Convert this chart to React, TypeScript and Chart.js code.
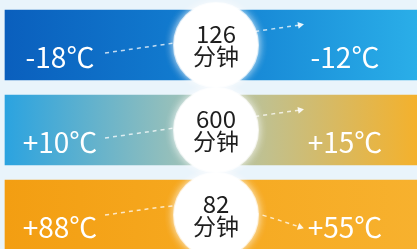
import React, { useEffect, useRef } from "react";
import { Chart, registerables } from "chart.js";

Chart.register(...registerables);

// ---- data ----
const categories = ["冷冻", "冷藏", "高温"];
const startTemps = ["-18℃", "+10℃", "+88℃"];
const endTemps = ["-12℃", "+15℃", "+55℃"];
const minutes = [126, 600, 82];
const minuteUnit = "分钟";

// gradient stops per band (left → right)
const bandGradients = [
  ["#0a5fbd", "#1380d2", "#2aaee8"],
  ["#2ba3e0", "#aec6b2", "#f4b12c"],
  ["#f39e12", "#f6a920", "#f7b12e"],
];

// ---- layout (pixels) ----
const W = 417;
const H = 249;
const BAND_LEFT = 5;
const BAND_RIGHT = 417;
const BAND_STEP = 85;
const FIRST_CENTER = 45;
const BAND_THICK = 70;
const CIRCLE_X = 216;
const CIRCLE_R = 42;
const LEFT_TEXT_X = 60;
const RIGHT_TEXT_X = 345;
const BG = "#e9f4fb";

const pxToIdx = (dy: number) => dy / BAND_STEP;

// arrow paths relative to band center (decorative)
const straightPath = [
  [105, 8],
  [300, -20],
];
const curvedPath = [
  [105, 0],
  [172, -9],
  [217, -12],
  [262, 0],
  [300, 12],
];
const arrowPaths = [straightPath, straightPath, curvedPath];
const arrowRot = [80, 80, 108];

export default function App() {
  const ref = useRef<HTMLCanvasElement | null>(null);

  useEffect(() => {
    document.body.style.margin = "0";
    const canvas = ref.current!;
    const lineSets = arrowPaths.map((path, i) => ({
      type: "line" as const,
      data: path.map(([x, dy]) => ({ x, y: i + pxToIdx(dy) })),
      borderColor: "rgba(255,255,255,0.75)",
      borderWidth: 1.5,
      borderDash: [4, 4],
      tension: 0.4,
      fill: false,
      clip: false,
      pointRadius: path.map((_, k) => (k === path.length - 1 ? 4 : 0)),
      pointStyle: "triangle",
      rotation: arrowRot[i],
      pointBackgroundColor: "rgba(255,255,255,0.9)",
      pointBorderWidth: 0,
      order: 2,
    }));

    const bgPlugin = {
      id: "bg",
      beforeDraw(chart: any) {
        const c = chart.ctx;
        c.save();
        c.fillStyle = BG;
        c.fillRect(0, 0, chart.width, chart.height);
        c.restore();
      },
    };

    const glowPlugin = {
      id: "glow",
      beforeDatasetDraw(chart: any, args: any) {
        if (args.index === 0) {
          const c = chart.ctx;
          c.save();
          c.shadowColor = "rgba(255,255,255,0.9)";
          c.shadowBlur = 8;
        }
      },
      afterDatasetDraw(chart: any, args: any) {
        if (args.index === 0) chart.ctx.restore();
      },
    };

    const textPlugin = {
      id: "texts",
      afterDatasetsDraw(chart: any) {
        const c = chart.ctx;
        const ys = chart.scales.y;
        const xs = chart.scales.x;
        c.save();
        categories.forEach((_, i) => {
          const cy = ys.getPixelForValue(i);
          c.textAlign = "center";
          c.textBaseline = "middle";
          c.fillStyle = "#ffffff";
          c.font = '28px "Noto Sans CJK SC", "Noto Sans", sans-serif';
          c.fillText(startTemps[i], xs.getPixelForValue(LEFT_TEXT_X), cy + 12);
          c.fillText(endTemps[i], xs.getPixelForValue(RIGHT_TEXT_X), cy + 12);
          c.fillStyle = "#1e1e1e";
          c.font = '24px "Noto Sans CJK SC", "Noto Sans", sans-serif';
          c.fillText(String(minutes[i]), xs.getPixelForValue(CIRCLE_X), cy - 11);
          c.font = '23px "Noto Sans CJK SC", sans-serif';
          c.fillText(minuteUnit, xs.getPixelForValue(CIRCLE_X), cy + 11);
        });
        c.restore();
      },
    };

    const chart = new Chart(canvas, {
      type: "bar",
      data: {
        datasets: [
          {
            type: "bubble" as any,
            data: categories.map((_, i) => ({ x: CIRCLE_X, y: i, r: CIRCLE_R })),
            backgroundColor: "#ffffff",
            borderColor: "rgba(255,255,255,0.7)",
            borderWidth: 2,
            clip: false,
            order: 1,
          } as any,
          ...(lineSets as any[]),
          {
            type: "bar",
            indexAxis: "y",
            data: categories.map((_, i) => ({ x: [BAND_LEFT, BAND_RIGHT], y: i })),
            barThickness: BAND_THICK,
            borderWidth: 0,
            borderSkipped: false,
            clip: false,
            backgroundColor: (ctx: any) => {
              const ch = ctx.chart;
              const area = ch.chartArea;
              if (!area) return "#1380d2";
              const stops = bandGradients[ctx.dataIndex] || bandGradients[0];
              const g = ch.ctx.createLinearGradient(
                ch.scales.x.getPixelForValue(BAND_LEFT), 0,
                ch.scales.x.getPixelForValue(BAND_RIGHT), 0
              );
              stops.forEach((s: string, k: number) => g.addColorStop(k / (stops.length - 1), s));
              return g;
            },
            order: 3,
          } as any,
        ],
      },
      options: {
        animation: false,
        responsive: false,
        events: [],
        layout: { padding: 0, autoPadding: false },
        plugins: { legend: { display: false }, tooltip: { enabled: false } },
        scales: {
          x: { type: "linear", min: 0, max: W, display: false, offset: false, grace: 0 },
          y: {
            type: "linear",
            min: -FIRST_CENTER / BAND_STEP,
            max: (H - FIRST_CENTER) / BAND_STEP,
            reverse: true,
            display: false,
            offset: false,
            grace: 0,
          },
        },
      },
      plugins: [bgPlugin, glowPlugin, textPlugin],
    } as any);

    return () => chart.destroy();
  }, []);

  return (
    <div style={{ width: W, height: H }}>
      <canvas ref={ref} width={W} height={H} style={{ display: "block" }} />
    </div>
  );
}
